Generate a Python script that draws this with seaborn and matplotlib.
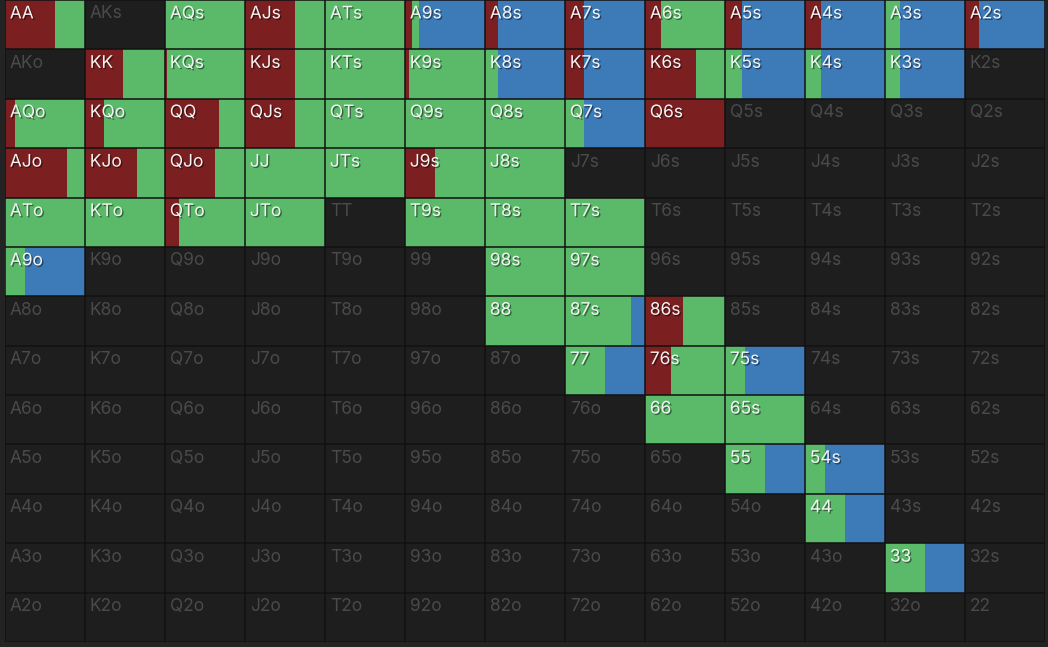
import numpy as np
import pandas as pd
import seaborn as sns
import matplotlib.pyplot as plt
import matplotlib.patheffects as pe
from matplotlib.colors import ListedColormap

ranks = ["A", "K", "Q", "J", "T", "9", "8", "7", "6", "5", "4", "3", "2"]

# action frequencies in percent (fold = remainder)
raise_pct = {
    "AA": 63, "AJs": 62, "A9s": 9, "A8s": 16, "A7s": 24, "A6s": 20, "A5s": 21,
    "A4s": 20, "A2s": 17, "KK": 48, "KQs": 2, "KJs": 62, "K9s": 5, "K7s": 24,
    "K6s": 64, "AQo": 13, "KQo": 24, "QQ": 68, "QJs": 62, "Q6s": 100,
    "AJo": 77, "KJo": 65, "QJo": 63, "J9s": 37, "QTo": 17, "86s": 48, "76s": 33,
}
call_pct = {
    "AA": 37, "AQs": 100, "AJs": 38, "ATs": 100, "A9s": 9, "A6s": 80, "A3s": 19,
    "KK": 52, "KQs": 98, "KJs": 38, "KTs": 100, "K9s": 95, "K8s": 16, "K6s": 36,
    "K5s": 21, "K4s": 20, "K3s": 19, "AQo": 87, "KQo": 76, "QQ": 32, "QJs": 38,
    "QTs": 100, "Q9s": 100, "Q8s": 100, "Q7s": 24, "AJo": 23, "KJo": 35,
    "QJo": 37, "JJ": 100, "JTs": 100, "J9s": 63, "J8s": 100, "ATo": 100,
    "KTo": 100, "QTo": 83, "JTo": 100, "T9s": 100, "T8s": 100, "T7s": 100,
    "A9o": 25, "98s": 100, "97s": 100, "88": 100, "87s": 82, "86s": 52,
    "77": 50, "76s": 67, "75s": 25, "66": 100, "65s": 100, "55": 50, "54s": 25,
    "44": 50, "33": 50,
}

colors = {"raise": "#7b1f20", "call": "#5aba69", "fold": "#3c7ab8"}
bg = "#1e1e1e"


def hand_name(i, j):
    if i == j:
        return ranks[i] * 2
    if j > i:
        return ranks[i] + ranks[j] + "s"
    return ranks[j] + ranks[i] + "o"


rows = []
for i in range(13):
    for j in range(13):
        h = hand_name(i, j)
        r = raise_pct.get(h, 0)
        c = call_pct.get(h, 0)
        active = (r + c) > 0
        f = 100 - r - c if active else 0
        rows.append({"hand": h, "row": i, "col": j, "raise": r / 100,
                     "call": c / 100, "fold": f / 100, "active": active})
df = pd.DataFrame(rows)

fig = plt.figure(figsize=(10.48, 6.47), dpi=100, facecolor="#232323")
ax = fig.add_axes([5 / 1048, 5 / 647, 1040 / 1048, 642 / 647])

sns.heatmap(np.zeros((13, 13)), cmap=ListedColormap([bg]), cbar=False,
            ax=ax, xticklabels=False, yticklabels=False)

# stacked split of every cell: raise | call | fold
left = df["col"].astype(float).copy()
for act in ["raise", "call", "fold"]:
    ax.barh(df["row"] + 0.5, df[act], left=left, height=1.0,
            color=colors[act], linewidth=0, zorder=2)
    left = left + df[act]

for k in range(14):
    ax.axhline(k, color="#111111", lw=1.1, zorder=3)
    ax.axvline(k, color="#111111", lw=1.1, zorder=3)

for _, r in df.iterrows():
    if r["active"]:
        ax.text(r["col"] + 0.06, r["row"] + 0.11, r["hand"], ha="left", va="top",
                fontsize=12.5, color="#f4f4f4", family="Inter", zorder=4,
                path_effects=[pe.withSimplePatchShadow(offset=(1, -1),
                                                       shadow_rgbFace="black", alpha=0.45)])
    else:
        ax.text(r["col"] + 0.06, r["row"] + 0.11, r["hand"], ha="left", va="top",
                fontsize=12.5, color="#4a4a4a", family="Inter", zorder=4)

ax.set_xlim(0, 13)
ax.set_ylim(13, 0)
ax.set_axis_off()

fig.savefig("out.png", dpi=100, facecolor=fig.get_facecolor())
